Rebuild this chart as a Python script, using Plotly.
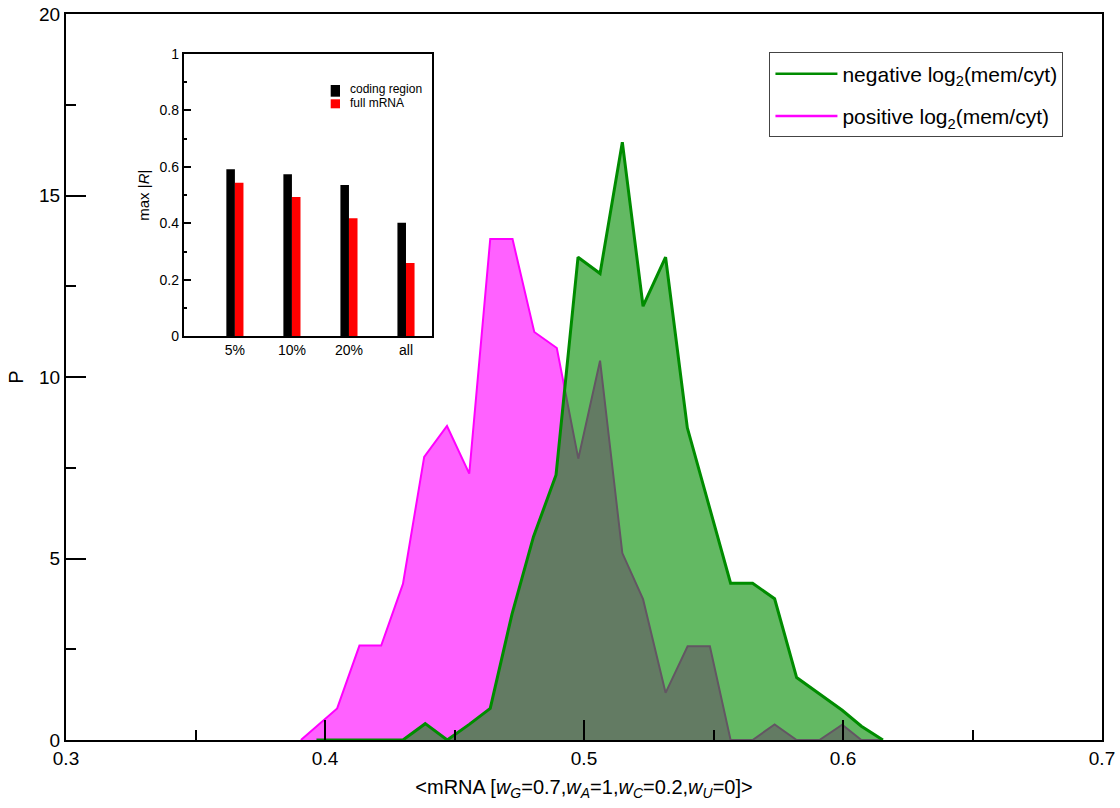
import plotly.graph_objects as go

# Main chart data: distribution P of <mRNA> for the two groups
pos_x = [0.3907, 0.4047, 0.4133, 0.4217, 0.4301, 0.4383, 0.4471, 0.4557, 0.4638, 0.4724,
         0.4808, 0.4895, 0.4978, 0.5062, 0.5148, 0.5228, 0.5315, 0.5400, 0.5486, 0.5566,
         0.5651, 0.5736, 0.5821, 0.5909, 0.5997, 0.6071, 0.6154]
pos_y = [0, 0.87, 2.6, 2.6, 4.3, 7.8, 8.65, 7.34, 13.8, 13.8,
         11.24, 10.8, 7.75, 10.45, 5.15, 3.88, 1.3, 2.58, 2.58, 0,
         0, 0.43, 0, 0, 0.42, 0, 0]

neg_x = [0.3967, 0.4047, 0.4133, 0.4217, 0.4301, 0.4387, 0.4472, 0.4557, 0.4638, 0.4722,
         0.4805, 0.4892, 0.4977, 0.5062, 0.5148, 0.5228, 0.5315, 0.5399, 0.5486, 0.5566,
         0.5651, 0.5736, 0.5821, 0.5909, 0.5997, 0.6071, 0.6154]
neg_y = [0, 0, 0, 0, 0, 0.45, 0, 0.43, 0.87, 3.47,
         5.6, 7.3, 13.3, 12.85, 16.47, 11.95, 13.3, 8.6, 6.4, 4.32,
         4.32, 3.89, 1.72, 1.27, 0.82, 0.38, 0]

# Inset data
inset_cats = ["5%", "10%", "20%", "all"]
coding_region = [0.592, 0.574, 0.536, 0.402]
full_mrna = [0.544, 0.493, 0.418, 0.260]
inset_names = ["coding region", "full mRNA"]
inset_colors = ["black", "rgb(255,0,0)"]

FONT = "Liberation Sans, Arial, sans-serif"
GREEN = "rgb(0,140,0)"
MAGENTA = "rgb(255,0,255)"

fig = go.Figure()

fig.add_trace(go.Scatter(
    x=pos_x, y=pos_y, mode="lines", fill="tozeroy",
    fillcolor="rgba(255,0,255,0.62)", line=dict(color=MAGENTA, width=2),
    showlegend=False, hoverinfo="skip"))
fig.add_trace(go.Scatter(
    x=neg_x, y=neg_y, mode="lines", fill="tozeroy",
    fillcolor="rgba(0,140,0,0.61)", line=dict(color=GREEN, width=3),
    showlegend=False, hoverinfo="skip"))

# legend entries (lines only)
fig.add_trace(go.Scatter(x=[None], y=[None], mode="lines",
                         line=dict(color=GREEN, width=2.5),
                         name="negative log<sub>2</sub>(mem/cyt)", legendgroup="a"))
fig.add_trace(go.Scatter(x=[None], y=[None], mode="lines",
                         line=dict(color=MAGENTA, width=2.5),
                         name="positive log<sub>2</sub>(mem/cyt)", legendgroup="b"))

# inset bars
for vals, nm, col in zip([coding_region, full_mrna], inset_names, inset_colors):
    fig.add_trace(go.Bar(x=inset_cats, y=vals, name=nm,
                         marker=dict(color=col, line=dict(width=0)),
                         xaxis="x2", yaxis="y2", showlegend=False))

# inset legend (compact, drawn by hand)
sw_y = [(0.9022, 0.8861), (0.8825, 0.8701)]
txt_y = [0.8963, 0.8774]
for (y0, y1), ty, nm, col in zip(sw_y, txt_y, inset_names, inset_colors):
    fig.add_shape(type="rect", xref="paper", yref="paper",
                  x0=0.2555, x1=0.2645, y0=y1, y1=y0,
                  fillcolor=col, line=dict(width=0))
    fig.add_annotation(text=nm, xref="paper", yref="paper", x=0.2719, y=ty,
                       xanchor="left", yanchor="middle", showarrow=False,
                       font=dict(size=12, family=FONT, color="black"))

axis_common = dict(showgrid=False, zeroline=False, showline=True, linecolor="black",
                   mirror=True, ticks="inside", tickcolor="black", automargin=False)

fig.update_layout(
    width=1120, height=808,
    margin=dict(l=66, r=18, t=14, b=68, autoexpand=False),
    paper_bgcolor="white", plot_bgcolor="white",
    font=dict(family=FONT, color="black"),
    barmode="group", bargap=0.7, bargroupgap=0,
    xaxis=dict(**axis_common, range=[0.3, 0.7], dtick=0.1, tick0=0.3,
               linewidth=2, ticklen=20, tickwidth=2, ticklabeloverflow="allow",
               minor=dict(dtick=0.05, ticklen=10, tickwidth=2, ticks="inside", tickcolor="black"),
               tickfont=dict(size=19, family=FONT),
               title=dict(text="&lt;mRNA [<i>w</i><sub><i>G</i></sub>=0.7,<i>w</i><sub><i>A</i></sub>=1,"
                               "<i>w</i><sub><i>C</i></sub>=0.2,<i>w</i><sub><i>U</i></sub>=0]&gt;",
                          font=dict(size=20, family=FONT), standoff=12)),
    yaxis=dict(**axis_common, range=[0, 20], dtick=5,
               linewidth=2, ticklen=20, tickwidth=2, ticklabeloverflow="allow",
               minor=dict(dtick=2.5, ticklen=10, tickwidth=2, ticks="inside", tickcolor="black"),
               tickfont=dict(size=19, family=FONT),
               title=dict(text="P", font=dict(size=20, family=FONT), standoff=10)),
    xaxis2=dict(**axis_common, domain=[0.1135, 0.3535], anchor="y2",
                range=[-0.9, 3.46], linewidth=1.5, ticklen=0,
                tickfont=dict(size=14, family=FONT)),
    yaxis2=dict(**axis_common, domain=[0.556, 0.945], anchor="x2",
                range=[0, 1], dtick=0.2, linewidth=1.5, ticklen=8, tickwidth=1.5,
                minor=dict(dtick=0.1, ticklen=4, tickwidth=1.5, ticks="inside", tickcolor="black"),
                tickfont=dict(size=14, family=FONT),
                title=dict(text="max |<i>R</i>|", font=dict(size=15, family=FONT), standoff=6)),
    legend=dict(x=0.679, y=0.947, xanchor="left", yanchor="top",
                bgcolor="white", bordercolor="#444", borderwidth=1,
                font=dict(size=21, family=FONT), traceorder="grouped",
                tracegroupgap=12, itemwidth=62),
)

fig.write_html("out.html",
               config={"displayModeBar": False},
               post_script="document.body.style.margin='0px';document.body.style.overflow='hidden';")
